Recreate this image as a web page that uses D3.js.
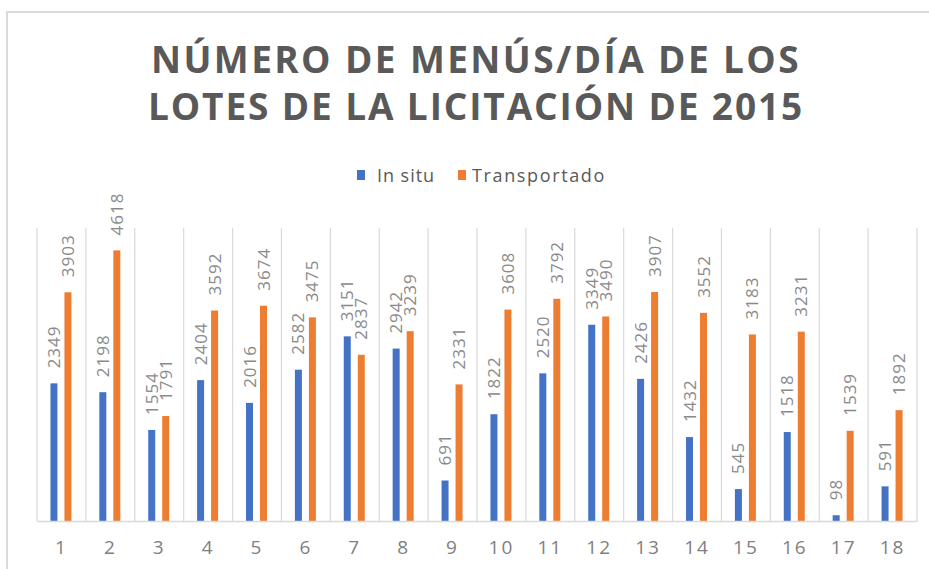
<!DOCTYPE html>
<html>
<head>
<meta charset="utf-8">
<script src="https://cdn.jsdelivr.net/npm/d3@7"></script>
<style>
  body { margin: 0; background: #fff; }
  text { font-family: "Open Sans", "Noto Sans", sans-serif; }
</style>
</head>
<body>
<div id="chart"></div>
<script>
// Data.
var lotes = ["1","2","3","4","5","6","7","8","9","10","11","12","13","14","15","16","17","18"];
var inSitu = [2349, 2198, 1554, 2404, 2016, 2582, 3151, 2942, 691, 1822, 2520, 3349, 2426, 1432, 545, 1518, 98, 591];
var transportado = [3903, 4618, 1791, 3592, 3674, 3475, 2837, 3239, 2331, 3608, 3792, 3490, 3907, 3552, 3183, 3231, 1539, 1892];
var seriesNames = ["In situ", "Transportado"];
var colors = ["#4472C4", "#ED7D31"];
var titleLines = ["NÚMERO DE MENÚS/DÍA DE LOS", "LOTES DE LA LICITACIÓN DE 2015"];

var W = 929, H = 569;

var svg = d3.select("#chart").append("svg")
    .attr("width", W)
    .attr("height", H);

// Chart frame.
svg.append("rect")
    .attr("x", 7).attr("y", 12)
    .attr("width", W + 20).attr("height", H + 20)
    .attr("fill", "none")
    .attr("stroke", "#d9d9d9")
    .attr("stroke-width", 2);

// Stretch a text to a given width using letter spacing.
function fit(sel, target) {
    var node = sel.node();
    var n = sel.text().length;
    var len = node.getComputedTextLength();
    sel.attr("letter-spacing", ((target - len) / n) + "px");
}

// Title.
var titleY = [73, 120];
titleLines.forEach(function(t, i) {
    var tx = svg.append("text")
        .attr("x", 476)
        .attr("y", titleY[i])
        .attr("text-anchor", "middle")
        .attr("font-size", 37)
        .attr("font-weight", "bold")
        .attr("fill", "#595959")
        .text(t);
    fit(tx, i === 0 ? 650 : 656);
});

// Legend.
var legend = [
    {name: seriesNames[0], sx: 357, tx: 377, w: 58},
    {name: seriesNames[1], sx: 458, tx: 472, w: 134}
];
legend.forEach(function(d, i) {
    svg.append("rect")
        .attr("x", d.sx).attr("y", 170)
        .attr("width", 8).attr("height", 10)
        .attr("fill", colors[i]);
    var t = svg.append("text")
        .attr("x", d.tx).attr("y", 182)
        .attr("font-size", 18)
        .attr("fill", "#595959")
        .text(d.name);
    fit(t, d.w);
});

// Scales.
var x0 = d3.scaleBand().domain(lotes).range([37, 917]);
var y = d3.scaleLinear().domain([0, 5000]).range([521, 228]);
var offsets = [-7.5, 6.5], barW = 7;

// Vertical gridlines at category boundaries.
svg.append("g").selectAll("line")
    .data(lotes.concat(["end"]))
    .join("line")
    .attr("x1", function(d, i) { return 37 + i * x0.step(); })
    .attr("x2", function(d, i) { return 37 + i * x0.step(); })
    .attr("y1", y(5000))
    .attr("y2", y(0))
    .attr("stroke", "#d9d9d9")
    .attr("stroke-width", 1.2);

// Bars and labels.
[inSitu, transportado].forEach(function(vals, s) {
    var g = svg.append("g");
    g.selectAll("rect")
        .data(vals)
        .join("rect")
        .attr("x", function(d, i) { return x0(lotes[i]) + x0.bandwidth() / 2 + offsets[s] - barW / 2; })
        .attr("y", function(d) { return y(d); })
        .attr("width", barW)
        .attr("height", function(d) { return y(0) - y(d); })
        .attr("fill", colors[s]);
    g.selectAll("text")
        .data(vals)
        .join("text")
        .attr("transform", function(d, i) {
            var cx = x0(lotes[i]) + x0.bandwidth() / 2 + offsets[s] + 6;
            return "translate(" + cx + "," + (y(d) - 15) + ") rotate(-90)";
        })
        .attr("font-size", 17)
        .attr("letter-spacing", "1px")
        .attr("fill", "#8a8a8a")
        .text(function(d) { return d; });
});

// X axis.
var xAxis = svg.append("g")
    .attr("transform", "translate(0," + y(0) + ")")
    .call(d3.axisBottom(x0).tickSize(0).tickPadding(20));
xAxis.select(".domain").attr("stroke", "#d9d9d9").attr("stroke-width", 1.5);
xAxis.selectAll("text")
    .attr("font-size", 19)
    .attr("letter-spacing", "2px")
    .attr("fill", "#808080")
    .attr("font-family", "'Open Sans', sans-serif");
</script>
</body>
</html>
